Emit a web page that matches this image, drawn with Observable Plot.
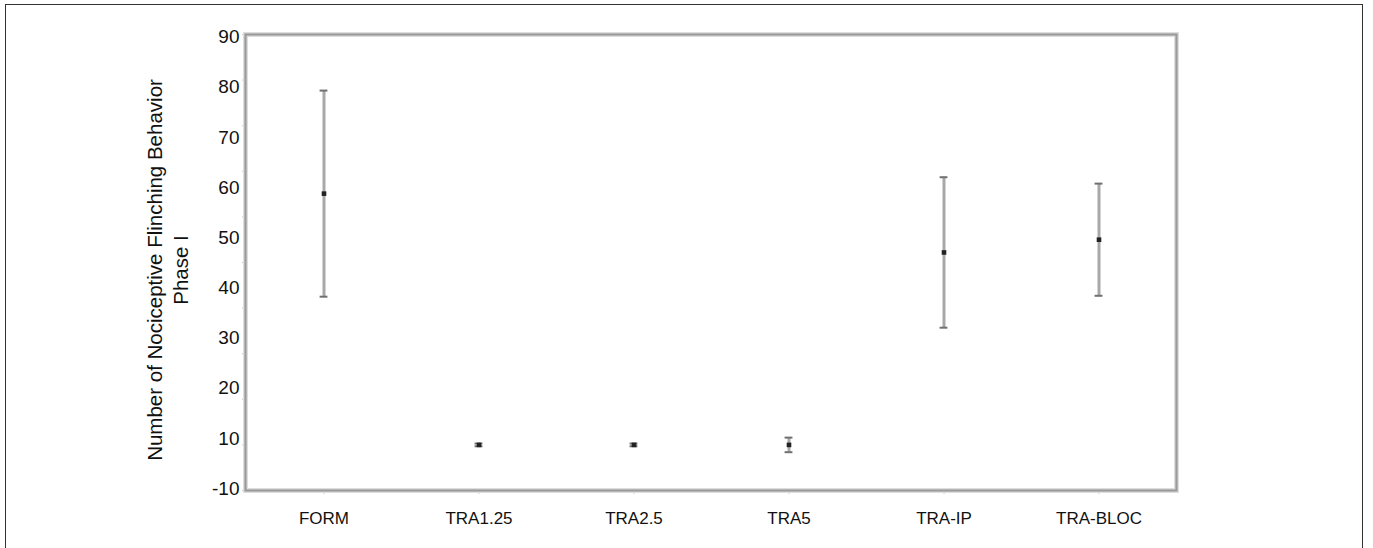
<!DOCTYPE html>
<html>
<head>
<meta charset="utf-8">
<script src="https://cdn.jsdelivr.net/npm/d3@7"></script>
<script src="https://cdn.jsdelivr.net/npm/@observablehq/plot@0.6"></script>
<style>
  html, body { margin: 0; padding: 0; background: #fff; }
  #wrap { position: relative; width: 1373px; height: 548px; overflow: hidden; }
  #border { position: absolute; left: 5px; top: 4px; width: 1358px; height: 560px; border: 1.5px solid #333; box-sizing: border-box; pointer-events: none; }
  #chart { position: absolute; left: 0; top: 0; }
</style>
</head>
<body>
<div id="wrap"><div id="chart"></div><div id="border"></div></div>
<script>
const groups = ["FORM", "TRA1.25", "TRA2.5", "TRA5", "TRA-IP", "TRA-BLOC"];
const means  = [55.1, 0, 0, 0, 42.2, 45.0];
const lows   = [32.5, -0.3, -0.3, -1.6, 25.7, 32.7];
const highs  = [77.7, 0.3, 0.3, 1.6, 58.7, 57.3];
const yTickValues = [-10, 0, 10, 20, 30, 40, 50, 60, 70, 80, 90];
const yTickLabels = ["90", "80", "70", "60", "50", "40", "30", "20", "10", "-10"];
const yLabelSpan = [89.4, -9.6]; // printed labels run evenly between these axis values
const yTitle = ["Number of Nociceptive Flinching Behavior", "Phase I"];

const data = groups.map((g, i) => ({group: g, mean: means[i], lo: lows[i], hi: highs[i]}));

const yDomain = [-10, 90];
const labelData = yTickLabels.map((t, i) => ({
  label: t,
  y: yLabelSpan[0] - i * (yLabelSpan[0] - yLabelSpan[1]) / (yTickLabels.length - 1)
}));

const W = 1373, H = 548;
const ml = 245, mr = W - 1176, mt = 34, mb = H - 490;
const bw = (W - ml - mr) / groups.length;
const capHalf = 4;

const chart = Plot.plot({
  width: W,
  height: H,
  marginLeft: ml,
  marginRight: mr,
  marginTop: mt,
  marginBottom: mb,
  style: {fontFamily: "'Liberation Sans', Arial, sans-serif", background: "transparent"},
  x: {type: "band", domain: groups, padding: 0, label: null},
  y: {domain: yDomain, label: null},
  marks: [
    Plot.axisY({ticks: yTickValues, tickSize: 3, tickFormat: () => "", stroke: "#c8c8c8"}),
    Plot.axisX({tickSize: 4, stroke: "#c8c8c8", tickFormat: () => ""}),
    Plot.text(groups, {x: d => d, frameAnchor: "bottom", dy: 28, text: d => d,
      fontSize: 17, fill: "#111", textAnchor: "middle", lineAnchor: "middle",
      style: "letter-spacing:1px"}),
    Plot.text(labelData, {x: null, y: "y", text: "label", frameAnchor: "left", dx: -6,
      textAnchor: "end", fontSize: 19, fill: "#111"}),
    Plot.frame({stroke: "#dedede", strokeWidth: 5}),
    Plot.frame({stroke: "#9a9a9a", strokeWidth: 2.2}),
    Plot.ruleX(data, {x: "group", y1: "lo", y2: "hi", stroke: "#a8a8a8", strokeWidth: 3}),
    Plot.tickY(data, {x: "group", y: "hi", stroke: "#707070", strokeWidth: 2,
      insetLeft: bw / 2 - capHalf, insetRight: bw / 2 - capHalf}),
    Plot.tickY(data, {x: "group", y: "lo", stroke: "#707070", strokeWidth: 2,
      insetLeft: bw / 2 - capHalf, insetRight: bw / 2 - capHalf}),
    Plot.dot(data, {x: "group", y: "mean", symbol: "square", r: 2.6, fill: "#222", stroke: "none"})
  ]
});

const svg = d3.select(chart);
const tg = svg.append("g")
  .attr("transform", `translate(155, ${(mt + (H - mb)) / 2 + 8}) rotate(-90)`)
  .attr("font-family", "'Liberation Sans', Arial, sans-serif")
  .attr("font-size", 20.5)
  .attr("fill", "#111")
  .attr("text-anchor", "middle");
yTitle.forEach((t, i) => {
  tg.append("text").attr("x", 0).attr("y", i * 26).attr("dy", "0.35em").text(t);
});

document.getElementById("chart").appendChild(chart);
</script>
</body>
</html>
